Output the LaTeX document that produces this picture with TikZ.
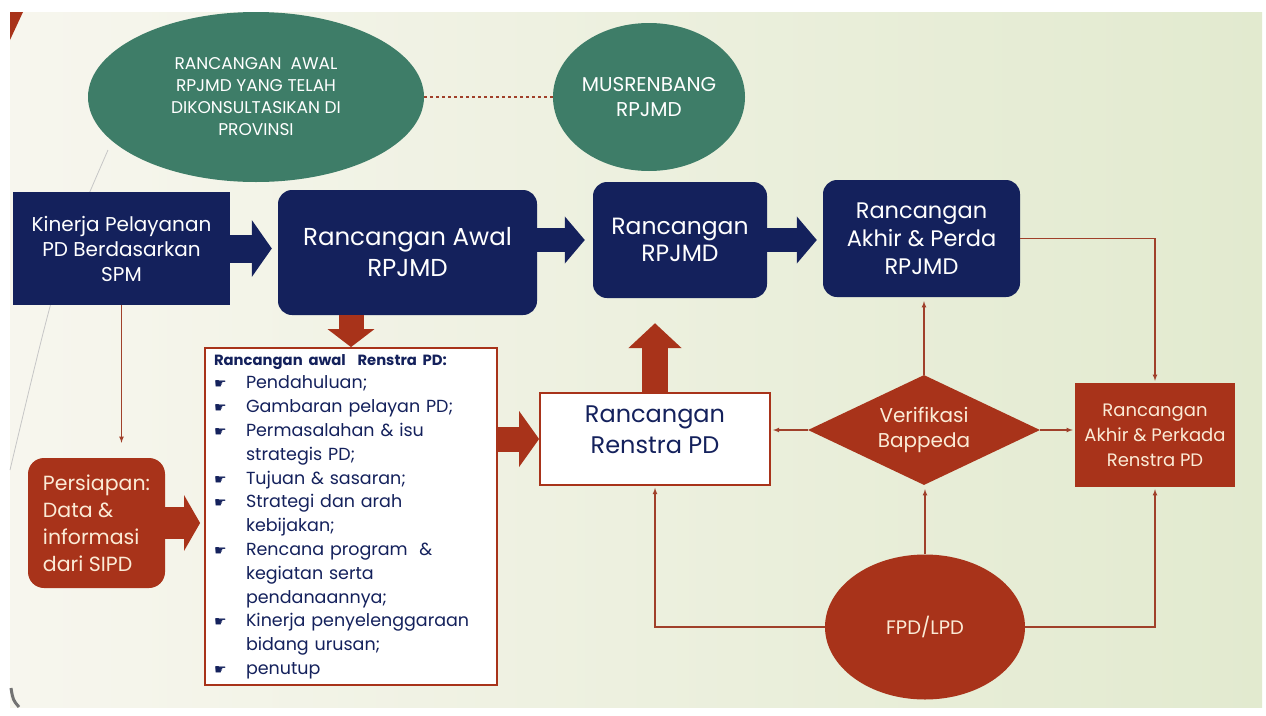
\documentclass[tikz,border=0pt]{standalone}
\usepackage{fontspec}
\setmainfont{Poppins}
\newfontfamily\symfont{DejaVu Sans}
\usetikzlibrary{arrows.meta,shapes.geometric,positioning}

\definecolor{navy}{HTML}{14215C}
\definecolor{brick}{HTML}{A8331A}
\definecolor{sage}{HTML}{3E7D68}
\definecolor{cream}{HTML}{FBEBD6}
\definecolor{wire}{HTML}{A0402A}
\definecolor{bgleft}{HTML}{F7F6EE}
\definecolor{bgright}{HTML}{E2EACF}

\newcommand{\hand}{\makebox[32pt][l]{\symfont\fontsize{14}{14}\selectfont ☛}}
\newcommand{\indt}{\hspace*{32pt}}

\tikzset{
  navybox/.style={fill=navy, text=white, align=center, inner sep=0pt},
  redbox/.style={fill=brick, text=cream, align=center, inner sep=0pt},
  whitebox/.style={draw=brick, line width=1.8pt, fill=white, text=navy, inner sep=0pt},
  oval/.style={ellipse, fill=sage, text=white, align=center, inner sep=0pt},
  fatarrow/.style n args={3}{line width=#1, -{Triangle[length=#2,width=#3]}},
  link/.style={wire, line width=1.1pt, ->}
}

\begin{document}
\begin{tikzpicture}[>=latex, x=1pt, y=-1pt]
   % background
   \fill[white] (0,0) rectangle (1266,715);
   \shade[left color=bgleft, right color=bgright] (10,12) rectangle (1262,707);
   \fill[brick] (10,12) -- (23,12) -- (10,40) -- cycle;
   \draw[gray!45, line width=0.8pt] (108,150) .. controls (60,260) .. (10,470);
   \draw[black!55, line width=3pt] (11,688) .. controls (13,700) .. (19,707);

   % top ovals
   \node[oval, minimum width=336pt, minimum height=170pt, font=\fontsize{17}{22}\selectfont]
      (E1) at (256,97) {RANCANGAN\ \ AWAL\\RPJMD YANG TELAH\\DIKONSULTASIKAN DI\\PROVINSI};
   \node[oval, minimum width=192pt, minimum height=148pt, font=\fontsize{20}{25}\selectfont]
      (E2) at (649,97) {MUSRENBANG\\RPJMD};

   % RPJMD row
   \node[navybox, minimum width=217pt, minimum height=113pt, font=\fontsize{20}{25}\selectfont]
      (K) at (121.5,248.5) {Kinerja Pelayanan\\PD Berdasarkan\\SPM};
   \node[navybox, rounded corners=14pt, minimum width=259pt, minimum height=125pt, font=\fontsize{24.5}{31}\selectfont]
      (RA) at (407.5,252.5) {Rancangan Awal\\RPJMD};
   \node[navybox, rounded corners=14pt, minimum width=174pt, minimum height=116pt, font=\fontsize{23.5}{27}\selectfont]
      (R) at (680,240) {Rancangan\\RPJMD};
   \node[navybox, rounded corners=14pt, minimum width=197pt, minimum height=117pt, font=\fontsize{22.5}{28}\selectfont]
      (RAP) at (921.5,238.5) {Rancangan\\Akhir \& Perda\\RPJMD};

   % Renstra row
   \node[redbox, rounded corners=16pt, align=left, minimum width=137pt, minimum height=130pt, font=\fontsize{20.5}{27}\selectfont]
      (P) at (96.5,523) {Persiapan:\\Data \&\\informasi\\dari SIPD};
   \node[whitebox, align=left, text width=274pt, minimum width=292pt, minimum height=337pt, font=\fontsize{17.5}{23.8}\selectfont]
      (L) at (351,516.5) {{\fontsize{14.8}{23.8}\selectfont\textbf{Rancangan awal\ \ Renstra PD:}}\\
      \hand Pendahuluan;\\
      \hand Gambaran pelayan PD;\\
      \hand Permasalahan \& isu\\
      \indt strategis PD;\\
      \hand Tujuan \& sasaran;\\
      \hand Strategi dan arah\\
      \indt kebijakan;\\
      \hand Rencana program\ \ \&\\
      \indt kegiatan serta\\
      \indt pendanaannya;\\
      \hand Kinerja penyelenggaraan\\
      \indt bidang urusan;\\
      \hand penutup};
   \node[whitebox, align=center, minimum width=230pt, minimum height=92pt, font=\fontsize{24}{31}\selectfont]
      (RS) at (655,439) {Rancangan\\Renstra PD\\[-12pt]\mbox{}};
   \node[redbox, diamond, aspect=2.1, minimum width=232pt, minimum height=110pt, font=\fontsize{20}{25}\selectfont]
      (V) at (924,430) {Verifikasi\\Bappeda};
   \node[redbox, minimum width=160pt, minimum height=104pt, font=\fontsize{18}{25}\selectfont]
      (A) at (1155,435) {Rancangan\\Akhir \& Perkada\\Renstra PD};
   \node[redbox, ellipse, minimum width=200pt, minimum height=145pt, font=\fontsize{19.5}{22}\selectfont]
      (F) at (925,627) {FPD/LPD};

   % block arrows
   \draw[navy, fatarrow={28pt}{20pt}{56pt}, shorten >=6pt] (K.east) -- (K.east -| RA.west);
   \draw[navy, fatarrow={24pt}{20pt}{46pt}, shorten >=8pt] (RA.east |- R.west) -- (R.west);
   \draw[navy, fatarrow={24pt}{20pt}{46pt}, shorten >=6pt] (R.east) -- (R.east -| RAP.west);
   \draw[brick, fatarrow={25pt}{18pt}{46pt}] (L.north |- RA.south) -- (L.north);
   \draw[brick, fatarrow={32pt}{16pt}{55pt}, shorten >=4pt] (P.east) -- (P.east -| L.west);
   \draw[brick, fatarrow={25pt}{20pt}{55pt}] (RS.west -| L.east) -- (RS.west);
   \draw[brick, fatarrow={26pt}{25pt}{52pt}, shorten >=25pt] (RS.north) -- (RS.north |- R.south);

   % thin links
   \draw[wire, dashed, line width=1.2pt] (E1.east) -- (E2.west);
   \draw[link, shorten >=15pt] (K.south) -- (K.south |- P.north);
   \draw[link, shorten >=2pt] (RAP.east) -| (A.north);
   \draw[link, shorten >=2pt] (V.west) -- (V.west -| RS.east);
   \draw[link, shorten >=4pt] (V.north) -- (V.north |- RAP.south);
   \draw[link, shorten >=2pt] (V.east) -- (V.east -| A.west);
   \draw[link, shorten >=4pt] (F.north) -- (F.north |- V.south);
   \draw[link, shorten >=2pt] (F.west) -| (RS.south);
   \draw[link, shorten >=2pt] (F.east) -| (A.south);
\end{tikzpicture}
\end{document}
